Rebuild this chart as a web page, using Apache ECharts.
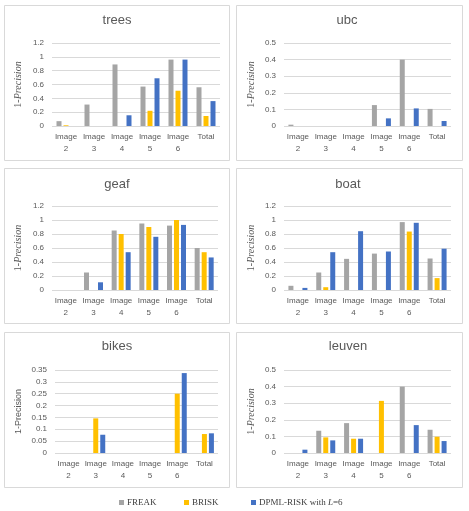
<!DOCTYPE html>
<html>
<head>
<meta charset="utf-8">
<script src="https://cdn.jsdelivr.net/npm/echarts@6/dist/echarts.min.js"></script>
<style>html,body{margin:0;padding:0;background:#fff}#c{width:469px;height:511px}</style>
</head>
<body>
<div id="c"></div>
<script>
const categories = ['Image\n2', 'Image\n3', 'Image\n4', 'Image\n5', 'Image\n6', 'Total'];
const seriesNames = ['FREAK', 'BRISK', 'DPML-RISK with L=6'];
const panelTitles = ['trees', 'ubc', 'geaf', 'boat', 'bikes', 'leuven'];
const yMaxes = [1.2, 0.5, 1.2, 1.2, 0.35, 0.5];
const yIntervals = [0.2, 0.1, 0.2, 0.2, 0.05, 0.1];

const treesFREAK = [0.07, 0.31, 0.89, 0.57, 0.96, 0.56];
const treesBRISK = [0.01, 0, 0, 0.22, 0.51, 0.145];
const treesDPML  = [0, 0, 0.155, 0.69, 0.96, 0.36];

const ubcFREAK = [0.008, 0, 0, 0.126, 0.40, 0.103];
const ubcBRISK = [0, 0, 0, 0, 0, 0];
const ubcDPML  = [0, 0, 0, 0.046, 0.106, 0.03];

const geafFREAK = [0, 0.25, 0.85, 0.95, 0.92, 0.60];
const geafBRISK = [0, 0, 0.80, 0.90, 1.0, 0.54];
const geafDPML  = [0, 0.11, 0.54, 0.76, 0.93, 0.465];

const boatFREAK = [0.06, 0.25, 0.445, 0.52, 0.97, 0.45];
const boatBRISK = [0, 0.04, 0, 0, 0.835, 0.17];
const boatDPML  = [0.03, 0.54, 0.84, 0.55, 0.96, 0.59];

const bikesFREAK = [0, 0, 0, 0, 0, 0];
const bikesBRISK = [0, 0.146, 0, 0, 0.25, 0.08];
const bikesDPML  = [0, 0.077, 0, 0, 0.337, 0.083];

const leuvenFREAK = [0, 0.134, 0.18, 0, 0.40, 0.14];
const leuvenBRISK = [0, 0.094, 0.086, 0.314, 0, 0.098];
const leuvenDPML  = [0.02, 0.076, 0.086, 0, 0.168, 0.072];

const panelData = [
  [treesFREAK, treesBRISK, treesDPML],
  [ubcFREAK, ubcBRISK, ubcDPML],
  [geafFREAK, geafBRISK, geafDPML],
  [boatFREAK, boatBRISK, boatDPML],
  [bikesFREAK, bikesBRISK, bikesDPML],
  [leuvenFREAK, leuvenBRISK, leuvenDPML]
];

// layout (pixels)
const colors = ['#A5A5A5', '#FFC000', '#4472C4'];
const grids = [
  {left: 52, top: 43, width: 168, height: 83},
  {left: 284, top: 43, width: 167, height: 83},
  {left: 52, top: 206, width: 166, height: 84},
  {left: 284, top: 206, width: 167, height: 84},
  {left: 55, top: 370, width: 163, height: 83},
  {left: 284, top: 370, width: 167, height: 83}
];
const titlePos = [
  {x: 117, y: 23}, {x: 347, y: 23},
  {x: 117, y: 187}, {x: 348, y: 187},
  {x: 117, y: 349}, {x: 348, y: 349}
];
const nameGaps = [29, 28, 29, 28, 32, 28];
const panels = [
  {x: 4, y: 5, w: 225, h: 155}, {x: 236, y: 5, w: 226, h: 155},
  {x: 4, y: 168, w: 225, h: 155}, {x: 236, y: 168, w: 226, h: 155},
  {x: 4, y: 332, w: 225, h: 155}, {x: 236, y: 332, w: 226, h: 155}
];

const txt = '#595959';
const sans = 'Liberation Sans';

const option = {
  animation: false,
  backgroundColor: '#fff',
  graphic: panels.map(p => ({
    type: 'rect', silent: true, z: -10,
    shape: {x: p.x + 0.5, y: p.y + 0.5, width: p.w, height: p.h},
    style: {fill: '#fff', stroke: '#D9D9D9', lineWidth: 1}
  })),
  title: panelTitles.map((t, i) => ({
    text: t, left: titlePos[i].x, top: titlePos[i].y - 9, textAlign: 'center',
    padding: 0,
    textStyle: {fontFamily: sans, fontSize: 13, fontWeight: 'normal', color: txt}
  })),
  legend: seriesNames.map((n, i) => ({
    data: [n],
    left: [119, 184, 251][i], top: 498, padding: 0,
    itemWidth: 5, itemHeight: 5, icon: 'rect',
    formatter: nm => nm === 'DPML-RISK with L=6' ? 'DPML-RISK with {i|L}=6' : nm,
    textStyle: {fontFamily: 'Liberation Serif', fontSize: 9, color: '#404040', padding: [0, 0, 0, -2],
      rich: {i: {fontFamily: 'Liberation Serif', fontStyle: 'italic', fontSize: 9, color: '#404040'}}}
  })),
  grid: grids.map(g => Object.assign({containLabel: false}, g)),
  xAxis: grids.map((g, i) => ({
    type: 'category', gridIndex: i, data: categories,
    axisLine: {show: false}, axisTick: {show: false},
    axisLabel: {fontFamily: sans, fontSize: 8, color: txt, lineHeight: 12, margin: 5, interval: 0}
  })),
  yAxis: grids.map((g, i) => ({
    type: 'value', gridIndex: i, min: 0, max: yMaxes[i], interval: yIntervals[i],
    axisLine: {show: false}, axisTick: {show: false},
    splitLine: {lineStyle: {color: '#D9D9D9', width: 1}},
    axisLabel: {fontFamily: sans, fontSize: 8, color: txt, margin: 8},
    name: i === 4 ? '1-Precision' : '1-{i|Precision}',
    nameLocation: 'middle', nameGap: nameGaps[i], nameRotate: 90,
    nameTextStyle: i === 4
      ? {fontFamily: sans, fontSize: 9, color: txt}
      : {fontFamily: 'Liberation Serif', fontSize: 10, color: txt,
         rich: {i: {fontFamily: 'Liberation Serif', fontStyle: 'italic', fontSize: 10, color: txt}}}
  })),
  series: []
};

panelData.forEach((arrs, gi) => {
  arrs.forEach((vals, si) => {
    option.series.push({
      type: 'bar', name: seriesNames[si], xAxisIndex: gi, yAxisIndex: gi,
      data: vals, barWidth: 5, barGap: '40%',
      itemStyle: {color: colors[si]}
    });
  });
});

const chart = echarts.init(document.getElementById('c'), null, {renderer: 'canvas'});
chart.setOption(option);
</script>
</body>
</html>
